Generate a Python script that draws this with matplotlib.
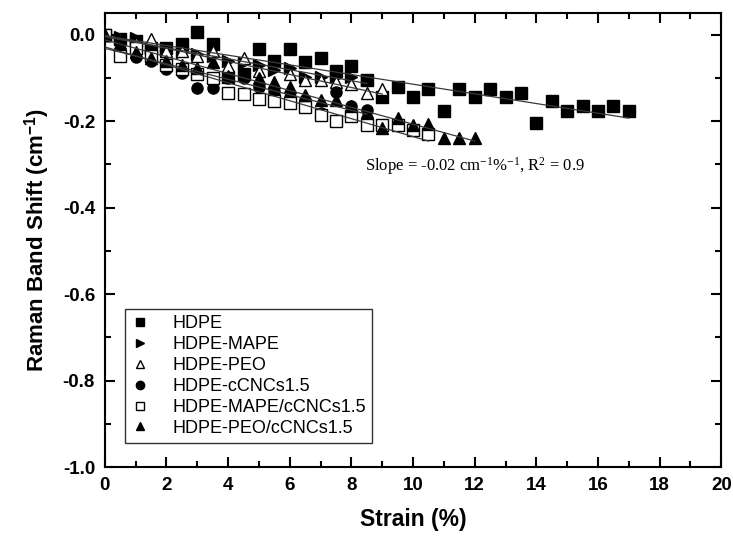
import numpy as np
import matplotlib
matplotlib.use("Agg")
import matplotlib.pyplot as plt
from matplotlib.ticker import MultipleLocator

plt.rcParams['font.family'] = ['Liberation Sans', 'DejaVu Sans']
plt.rcParams['axes.unicode_minus'] = False
plt.rcParams['mathtext.fontset'] = 'custom'
plt.rcParams['mathtext.rm'] = 'Liberation Serif'
plt.rcParams['mathtext.it'] = 'Liberation Serif:italic'
plt.rcParams['mathtext.bf'] = 'Liberation Sans:bold'

# Strain (%) and Raman band shift (cm^-1) for each material
x_hdpe = [0, 0.5, 1.0, 1.5, 2.0, 2.5, 3.0, 3.5, 4.0, 4.5, 5.0, 5.5, 6.0, 6.5, 7.0,
          7.5, 8.0, 8.5, 9.0, 9.5, 10.0, 10.5, 11.0, 11.5, 12.0, 12.5, 13.0, 13.5,
          14.0, 14.5, 15.0, 15.5, 16.0, 16.5, 17.0]
y_hdpe = [0.0, -0.01, -0.015, -0.03, -0.03, -0.022, 0.005, -0.022, -0.099, -0.09,
          -0.033, -0.062, -0.033, -0.064, -0.055, -0.083, -0.072, -0.105, -0.144,
          -0.122, -0.144, -0.125, -0.176, -0.125, -0.145, -0.125, -0.145, -0.135,
          -0.204, -0.154, -0.176, -0.166, -0.176, -0.166, -0.176]

x_mape = [0, 0.5, 1.0, 1.5, 2.0, 2.5, 3.0, 3.5, 4.0, 4.5, 5.0, 5.5, 6.0, 6.5, 7.0,
          7.5, 8.0, 8.5]
y_mape = [0.0, -0.005, -0.008, -0.03, -0.035, -0.04, -0.045, -0.05, -0.06, -0.065,
          -0.07, -0.081, -0.077, -0.097, -0.098, -0.097, -0.098, -0.105]

x_peo = [0, 0.5, 1.0, 1.5, 2.0, 2.5, 3.0, 3.5, 4.0, 4.5, 5.0, 5.5, 6.0, 6.5, 7.0,
         7.5, 8.0, 8.5, 9.0]
y_peo = [0.0, -0.01, -0.02, -0.01, -0.037, -0.037, -0.049, -0.037, -0.072, -0.053,
         -0.083, -0.125, -0.09, -0.106, -0.106, -0.11, -0.114, -0.134, -0.125]

x_cnc = [0, 0.5, 1.0, 1.5, 2.0, 2.5, 3.0, 3.5, 4.0, 4.5, 5.0, 5.5, 6.0, 6.5, 7.0,
         7.5, 8.0, 8.5]
y_cnc = [0.0, -0.015, -0.052, -0.06, -0.079, -0.088, -0.123, -0.123, -0.1, -0.1,
         -0.12, -0.13, -0.145, -0.15, -0.182, -0.132, -0.165, -0.175]

x_mape_cnc = [0, 0.5, 1.0, 1.5, 2.0, 2.5, 3.0, 3.5, 4.0, 4.5, 5.0, 5.5, 6.0, 6.5,
              7.0, 7.5, 8.0, 8.5, 9.0, 9.5, 10.0, 10.5]
y_mape_cnc = [0.0, -0.049, -0.03, -0.05, -0.07, -0.08, -0.09, -0.1, -0.134, -0.137,
              -0.149, -0.153, -0.157, -0.168, -0.185, -0.199, -0.188, -0.21, -0.21,
              -0.21, -0.22, -0.23]

x_peo_cnc = [0, 0.5, 1.0, 1.5, 2.0, 2.5, 3.0, 3.5, 4.0, 4.5, 5.0, 5.5, 6.0, 6.5,
             7.0, 7.5, 8.0, 8.5, 9.0, 9.5, 10.0, 10.5, 11.0, 11.5, 12.0]
y_peo_cnc = [0.0, -0.02, -0.04, -0.055, -0.06, -0.07, -0.076, -0.064, -0.095, -0.09,
             -0.1, -0.11, -0.122, -0.14, -0.15, -0.15, -0.165, -0.18, -0.215, -0.192,
             -0.21, -0.206, -0.24, -0.238, -0.238]

labels = ["HDPE", "HDPE-MAPE", "HDPE-PEO", "HDPE-cCNCs1.5",
          "HDPE-MAPE/cCNCs1.5", "HDPE-PEO/cCNCs1.5"]
series = [(x_hdpe, y_hdpe), (x_mape, y_mape), (x_peo, y_peo), (x_cnc, y_cnc),
          (x_mape_cnc, y_mape_cnc), (x_peo_cnc, y_peo_cnc)]
markers = ["s", ">", "^", "o", "s", "^"]
filled = [True, True, False, True, False, True]
sizes = [8, 8.5, 8.5, 8, 8, 8.5]

fig = plt.figure(figsize=(7.33, 5.42), dpi=100)
ax = fig.add_axes([0.143, 0.138, 0.841, 0.838])

handles = []
for (xs, ys), m, f, ms, lab in zip(series, markers, filled, sizes, labels):
    xs = np.asarray(xs)
    ys = np.asarray(ys)
    fc = "black" if f else "white"
    h, = ax.plot(xs, ys, linestyle="none", marker=m, markersize=ms,
                 markerfacecolor=fc, markeredgecolor="black",
                 markeredgewidth=1.0, label=lab, zorder=3)
    handles.append(h)
    # linear fit over the measured strain range
    k, b = np.polyfit(xs, ys, 1)
    xf = np.array([0, xs.max()])
    ax.plot(xf, k * xf + b, color="#3a3a3a", linewidth=0.9, zorder=4)

ax.set_xlim(0, 20)
ax.set_ylim(-1.0, 0.05)
ax.xaxis.set_major_locator(MultipleLocator(2))
ax.xaxis.set_minor_locator(MultipleLocator(1))
ax.yaxis.set_major_locator(MultipleLocator(0.2))
ax.yaxis.set_minor_locator(MultipleLocator(0.1))
ax.tick_params(which="both", direction="in", top=True, right=True, width=1.5)
ax.tick_params(which="major", length=7)
ax.tick_params(which="minor", length=4)
ax.tick_params(axis="both", which="major", labelsize=13.5, pad=7)
for lbl in ax.get_xticklabels() + ax.get_yticklabels():
    lbl.set_fontweight("bold")
for sp in ax.spines.values():
    sp.set_linewidth(1.5)

ax.set_xlabel("Strain (%)", fontsize=16.5, fontweight="bold", labelpad=10)
ax.set_ylabel("Raman Band Shift (cm$^{\\mathbf{-1}}$)", fontsize=16,
              fontweight="bold", labelpad=8)

ax.text(8.45, -0.303,
        "Slope = -0.02 cm$^{\\mathrm{-1}}$%$^{\\mathrm{-1}}$, R$^{\\mathrm{2}}$ = 0.9",
        fontsize=12, family="Liberation Serif", ha="left", va="center")

leg = ax.legend(handles=handles, loc="lower left", bbox_to_anchor=(0.032, 0.053),
                fontsize=13, frameon=True, fancybox=False, markerscale=0.75,
                handlelength=1.0, handletextpad=1.3, borderpad=0.35,
                labelspacing=0.22, borderaxespad=0)
leg.get_frame().set_edgecolor("black")
leg.get_frame().set_linewidth(1.0)

fig.savefig("out.png", dpi=100)
